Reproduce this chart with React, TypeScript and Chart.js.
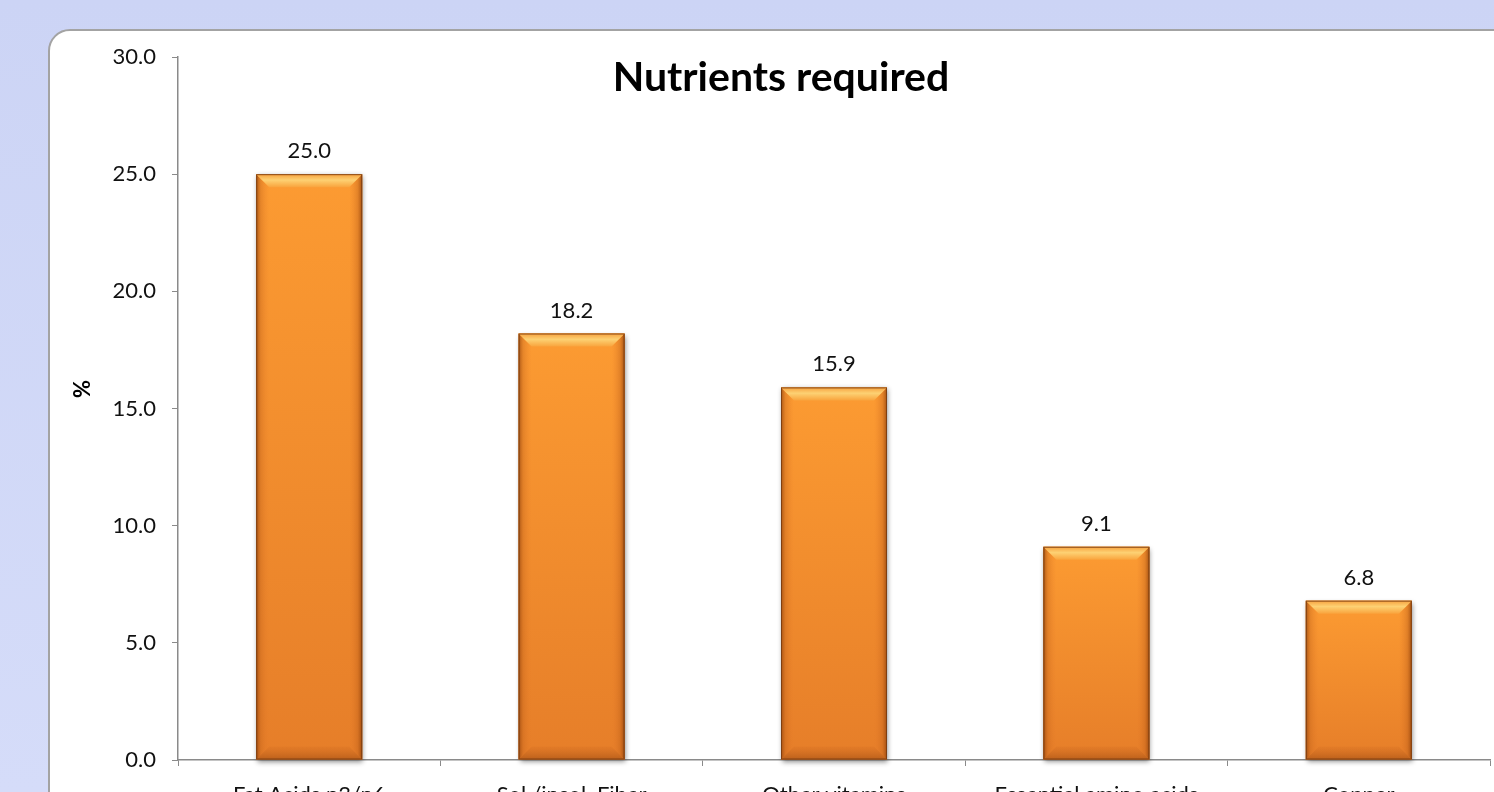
import { useEffect, useRef } from 'react';
import { Chart, registerables } from 'chart.js';

Chart.register(...registerables);

const categories = ['Fat Acids n3/n6', 'Sol./insol. Fiber', 'Other vitamins', 'Essential amino acids', 'Copper'];
const values = [25.0, 18.2, 15.9, 9.1, 6.8];
const yMin = 0;
const yMax = 30;
const yStep = 5;
const chartTitle = 'Nutrients required';
const yAxisTitle = '%';

const FONT = "Lato, 'Open Sans', 'Noto Sans', sans-serif";
const CW = 1462;
const CH = 790;

function drawBevelBar(ctx: CanvasRenderingContext2D, left: number, top: number, right: number, bottom: number) {
  const w = right - left;
  const h = bottom - top;
  if (w <= 0 || h <= 0) return;
  const b = Math.min(13, h / 2, w / 2);
  ctx.save();
  ctx.shadowColor = 'rgba(0,0,0,0.45)';
  ctx.shadowBlur = 5;
  ctx.shadowOffsetX = 1;
  ctx.shadowOffsetY = 2;
  const vg = ctx.createLinearGradient(0, top, 0, bottom);
  vg.addColorStop(0, '#fc9b32');
  vg.addColorStop(1, '#e67e29');
  ctx.fillStyle = vg;
  ctx.fillRect(left, top, w, h);
  ctx.restore();

  ctx.save();
  // left bevel
  let g = ctx.createLinearGradient(left, 0, left + b, 0);
  g.addColorStop(0, 'rgba(140,62,10,0.75)');
  g.addColorStop(0.35, 'rgba(190,95,25,0.35)');
  g.addColorStop(1, 'rgba(230,120,40,0.0)');
  ctx.fillStyle = g;
  ctx.beginPath();
  ctx.moveTo(left, top);
  ctx.lineTo(left + b, top + b);
  ctx.lineTo(left + b, bottom - b);
  ctx.lineTo(left, bottom);
  ctx.closePath();
  ctx.fill();
  // right bevel
  g = ctx.createLinearGradient(right, 0, right - b, 0);
  g.addColorStop(0, 'rgba(140,62,10,0.8)');
  g.addColorStop(0.35, 'rgba(190,95,25,0.4)');
  g.addColorStop(1, 'rgba(230,120,40,0.0)');
  ctx.fillStyle = g;
  ctx.beginPath();
  ctx.moveTo(right, top);
  ctx.lineTo(right - b, top + b);
  ctx.lineTo(right - b, bottom - b);
  ctx.lineTo(right, bottom);
  ctx.closePath();
  ctx.fill();
  // bottom bevel
  g = ctx.createLinearGradient(0, bottom, 0, bottom - b);
  g.addColorStop(0, 'rgba(150,70,15,0.55)');
  g.addColorStop(1, 'rgba(200,100,30,0.15)');
  ctx.fillStyle = g;
  ctx.beginPath();
  ctx.moveTo(left, bottom);
  ctx.lineTo(right, bottom);
  ctx.lineTo(right - b, bottom - b);
  ctx.lineTo(left + b, bottom - b);
  ctx.closePath();
  ctx.fill();
  // top bevel
  g = ctx.createLinearGradient(0, top, 0, top + b);
  g.addColorStop(0, '#f7a13e');
  g.addColorStop(0.45, '#fdd173');
  g.addColorStop(1, '#f9a43d');
  ctx.fillStyle = g;
  ctx.beginPath();
  ctx.moveTo(left, top);
  ctx.lineTo(right, top);
  ctx.lineTo(right - b, top + b);
  ctx.lineTo(left + b, top + b);
  ctx.closePath();
  ctx.fill();
  // outline
  ctx.strokeStyle = 'rgba(120,60,18,0.85)';
  ctx.lineWidth = 1;
  ctx.strokeRect(left + 0.5, top + 0.5, w - 1, h - 1);
  ctx.restore();
}

const decorPlugin = {
  id: 'decor',
  afterDatasetsDraw(chart: any) {
    const ctx = chart.ctx as CanvasRenderingContext2D;
    const meta = chart.getDatasetMeta(0);
    meta.data.forEach((bar: any) => {
      const p = bar.getProps(['x', 'y', 'base', 'width'], true);
      drawBevelBar(ctx, p.x - p.width / 2, p.y, p.x + p.width / 2, p.base);
    });
  },
  afterDraw(chart: any) {
    const ctx = chart.ctx as CanvasRenderingContext2D;
    const meta = chart.getDatasetMeta(0);
    const ds = chart.data.datasets[0];
    ctx.save();
    ctx.fillStyle = '#111';
    ctx.font = `22px ${FONT}`;
    ctx.textAlign = 'center';
    ctx.textBaseline = 'alphabetic';
    meta.data.forEach((bar: any, i: number) => {
      const p = bar.getProps(['x', 'y'], true);
      ctx.fillText(Number(ds.data[i]).toFixed(1), p.x, p.y - 16);
    });
    // title
    ctx.font = `bold 41px ${FONT}`;
    ctx.fillStyle = '#000';
    ctx.fillText(chartTitle, chart.width / 2, 60);
    // y-axis title
    ctx.translate(33, 358);
    ctx.rotate(-Math.PI / 2);
    ctx.font = `bold 22px ${FONT}`;
    ctx.textBaseline = 'middle';
    ctx.fillText(yAxisTitle, 0, 0);
    ctx.restore();
  },
};

export default function App() {
  const ref = useRef<HTMLCanvasElement | null>(null);
  useEffect(() => {
    if (!ref.current) return;
    const chart = new Chart(ref.current, {
      type: 'bar',
      data: {
        labels: categories,
        datasets: [
          {
            data: values,
            backgroundColor: '#f7922f',
            borderWidth: 0,
            categoryPercentage: 0.8,
            barPercentage: 0.505,
          },
        ],
      },
      options: {
        responsive: false,
        animation: false,
        events: [],
        layout: { padding: { left: 0, top: 26, right: 22, bottom: 0 } },
        plugins: {
          legend: { display: false },
          title: { display: false },
          tooltip: { enabled: false },
        },
        scales: {
          x: {
            grid: { offset: true, drawOnChartArea: false, drawTicks: true, tickLength: 6, color: '#8a8a8a', lineWidth: 1 },
            border: { display: true, color: '#8a8a8a', width: 1.5 },
            ticks: {
              color: '#111',
              font: { family: FONT, size: 22 },
              padding: 16,
              maxRotation: 0,
              autoSkip: false,
            },
            afterFit: (scale: any) => {
              scale.height = CH - 729;
              scale.paddingLeft = 0;
              scale.paddingRight = 0;
            },
          },
          y: {
            min: yMin,
            max: yMax,
            grid: { drawOnChartArea: false, drawTicks: true, tickLength: 6, color: '#8a8a8a', lineWidth: 1 },
            border: { display: true, color: '#8a8a8a', width: 1.5 },
            ticks: {
              stepSize: yStep,
              color: '#111',
              font: { family: FONT, size: 22 },
              padding: 16,
              callback: (v: any) => Number(v).toFixed(1),
            },
            afterFit: (scale: any) => {
              scale.width = 128;
              scale.paddingTop = 0;
              scale.paddingBottom = 0;
            },
          },
        },
      },
      plugins: [decorPlugin],
    } as any);
    return () => chart.destroy();
  }, []);

  return (
    <div
      style={{
        position: 'fixed',
        inset: 0,
        overflow: 'hidden',
        background: 'linear-gradient(180deg, #ccd4f5 0%, #d5dcf9 100%)',
      }}
    >
      <div
        style={{
          position: 'absolute',
          left: 48,
          top: 29,
          width: CW,
          height: CH + 40,
          background: '#fff',
          border: '2px solid #a3a3a3',
          borderRadius: 22,
          overflow: 'hidden',
        }}
      >
        <canvas ref={ref} width={CW} height={CH} style={{ display: 'block', width: CW, height: CH }} />
      </div>
    </div>
  );
}
